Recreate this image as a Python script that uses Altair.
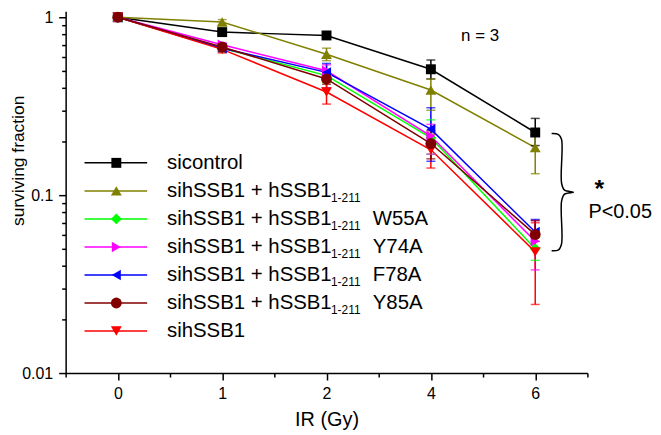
import altair as alt
import pandas as pd

FONT = "Liberation Sans"

# ---------------- data ----------------
doses = ["0", "1", "2", "4", "6"]
dose_index = [0, 1, 2, 3, 4]

series_ids = ["sicontrol", "wt", "W55A", "Y74A", "F78A", "Y85A", "sihSSB1"]
legend_main = ["sicontrol", "sihSSB1 + hSSB1", "sihSSB1 + hSSB1", "sihSSB1 + hSSB1",
               "sihSSB1 + hSSB1", "sihSSB1 + hSSB1", "sihSSB1"]
legend_sub = ["", "1-211", "1-211", "1-211", "1-211", "1-211", ""]
legend_suffix = ["", "", "W55A", "Y74A", "F78A", "Y85A", ""]
colors = ["#000000", "#808000", "#00ff00", "#ff00ff", "#0000ff", "#800000", "#ff0000"]
shapes = ["square", "triangle-up", "diamond", "triangle-right", "triangle-left", "circle", "triangle-down"]
marker_sizes = [100, 120, 120, 110, 110, 120, 120]
draw_order = [0, 1, 2, 3, 4, 6, 5]

sicontrol_val = [1.0, 0.825, 0.79, 0.51, 0.225]
wt_val = [1.0, 0.94, 0.62, 0.39, 0.185]
w55a_val = [1.0, 0.67, 0.47, 0.21, 0.050]
y74a_val = [1.0, 0.70, 0.50, 0.215, 0.055]
f78a_val = [1.0, 0.67, 0.49, 0.235, 0.062]
y85a_val = [1.0, 0.68, 0.45, 0.195, 0.060]
sihssb1_val = [1.0, 0.66, 0.38, 0.18, 0.048]

sicontrol_lo = [None, 0.79, 0.77, 0.45, 0.19]
sicontrol_hi = [None, 0.85, 0.81, 0.575, 0.27]
wt_lo = [None, 0.90, 0.57, 0.30, 0.132]
wt_hi = [None, 0.97, 0.67, 0.45, 0.23]
w55a_lo = [None, 0.64, 0.43, 0.17, 0.043]
w55a_hi = [None, 0.70, 0.51, 0.265, 0.058]
y74a_lo = [None, 0.68, 0.46, 0.17, 0.038]
y74a_hi = [None, 0.72, 0.54, 0.25, 0.072]
f78a_lo = [None, 0.64, 0.40, 0.155, 0.055]
f78a_hi = [None, 0.70, 0.55, 0.31, 0.073]
y85a_lo = [None, 0.65, 0.42, 0.16, 0.050]
y85a_hi = [None, 0.71, 0.48, 0.23, 0.072]
sihssb1_lo = [None, 0.63, 0.325, 0.142, 0.0243]
sihssb1_hi = [None, 0.69, 0.45, 0.22, 0.070]

values = [sicontrol_val, wt_val, w55a_val, y74a_val, f78a_val, y85a_val, sihssb1_val]
lows = [sicontrol_lo, wt_lo, w55a_lo, y74a_lo, f78a_lo, y85a_lo, sihssb1_lo]
highs = [sicontrol_hi, wt_hi, w55a_hi, y74a_hi, f78a_hi, y85a_hi, sihssb1_hi]

y_major = [0.01, 0.1, 1]
y_ticks = sorted(set([round(m * k, 4) for m in [0.01, 0.1] for k in range(1, 10)] + [1.0]))
x_ticks = [i / 2 for i in range(-1, 10)]

# annotation texts
n_text = "n = 3"
star_text = "*"
p_text = "P<0.05"

rows, err_rows = [], []
for s, (sid, vals, lo, hi) in enumerate(zip(series_ids, values, lows, highs)):
    for i, d in enumerate(dose_index):
        rows.append({"series": sid, "idx": d, "val": vals[i], "z": draw_order[s],
                     "sz": marker_sizes[s]})
        if lo[i] is not None:
            err_rows.append({"series": sid, "idx": d, "lo": lo[i], "hi": hi[i], "z": draw_order[s]})
df = pd.DataFrame(rows).sort_values("z")
err_df = pd.DataFrame(err_rows).sort_values("z")

# ---------------- main plot ----------------
x_label_expr = "datum.value % 1 == 0 ? [" + ",".join("'%s'" % d for d in doses) + "][datum.value] : ''"
y_label_expr = " : ".join("datum.value == %s ? '%s'" % (v, str(v)) for v in y_major) + " : ''"

x_axis = alt.Axis(values=x_ticks, labelExpr=x_label_expr, grid=False,
                  tickSize={"condition": {"test": "datum.value % 1 == 0", "value": 7}, "value": 4},
                  labelPadding=6, labelFontSize=16, labelFont=FONT, labelColor="black",
                  titleFontSize=20, titleBaseline="middle", titleY=47,
                  titleFontWeight="normal")
y_axis = alt.Axis(values=y_ticks, labelExpr=y_label_expr, grid=False,
                  tickSize={"condition": {"test": "indexof([0.01, 0.1, 1], datum.value) >= 0", "value": 7}, "value": 4},
                  labelPadding=6, labelFontSize=16, labelFont=FONT, labelColor="black",
                  titleFontSize=17.5, titleX=-47, titleY=150, titleAlign="center",
                  titleBaseline="middle", titleFontWeight="normal")

x_scale = alt.Scale(domain=[-0.5, 4.5], nice=False, zero=False)
y_scale = alt.Scale(type="log", domain=[0.01, 1.08], nice=False)


def X(field):
    return alt.X(field, type="quantitative", scale=x_scale, axis=x_axis, title="IR (Gy)")


def Y(field):
    return alt.Y(field, type="quantitative", scale=y_scale, axis=y_axis, title="surviving fraction")


color_enc = alt.Color("series:N", scale=alt.Scale(domain=series_ids, range=colors), legend=None)

lines = alt.Chart(df).mark_line(strokeWidth=1.5).encode(
    x=X("idx"), y=Y("val"), color=color_enc, order=alt.Order("idx:Q"))

err_rules = alt.Chart(err_df).mark_rule(strokeWidth=1.5).encode(
    x=X("idx"), y=Y("lo"), y2="hi:Q", color=color_enc)

err_caps = alt.Chart(err_df).transform_fold(["lo", "hi"], as_=["end", "v"]).mark_tick(
    orient="horizontal", size=9, thickness=1.5).encode(
    x=X("idx"), y=Y("v"), color=color_enc)

points = alt.Chart(df).mark_point(filled=True, opacity=1).encode(
    x=X("idx"), y=Y("val"), color=color_enc,
    shape=alt.Shape("series:N", scale=alt.Scale(domain=series_ids, range=shapes), legend=None),
    size=alt.Size("sz:Q", scale=None, legend=None),
    order=alt.Order("z:Q"))

main = alt.layer(lines, err_rules, err_caps, points)

# ---------------- legend & annotations (pixel positions) ----------------
leg_df = pd.DataFrame({
    "row": list(range(len(series_ids))),
    "main": legend_main, "sub": legend_sub, "suffix": legend_suffix,
    "col": colors, "shp": shapes, "sz": marker_sizes,
})
leg = alt.Chart(leg_df).transform_calculate(ly="152.5 + 28.2 * datum.row")
LY = alt.Y("ly:Q", scale=None, axis=None)

leg_line = leg.mark_rule(strokeWidth=1.5).encode(
    x=alt.value(19), x2=alt.value(82), y=LY, color=alt.Color("col:N", scale=None, legend=None))
leg_pt = leg.mark_point(filled=True, opacity=1).encode(
    x=alt.value(51), y=LY, color=alt.Color("col:N", scale=None, legend=None),
    shape=alt.Shape("shp:N", scale=None, legend=None), size=alt.Size("sz:Q", scale=None, legend=None))
leg_txt = leg.mark_text(align="left", baseline="middle", fontSize=20.5, font=FONT, color="black").encode(
    x=alt.value(102), y=LY, text="main:N")
leg_sub = leg.mark_text(align="left", baseline="middle", fontSize=12, font=FONT, color="black", dy=7).encode(
    x=alt.value(267), y=LY, text="sub:N")
leg_suf = leg.mark_text(align="left", baseline="middle", fontSize=20.5, font=FONT, color="black").encode(
    x=alt.value(309), y=LY, text="suffix:N")

ann_df = pd.DataFrame({
    "t": [n_text, p_text],
    "px": [417, 558],
    "py": [25, 202],
    "fs": [17, 20],
})
ann = alt.Chart(ann_df).mark_text(align="center", baseline="middle", font=FONT, color="black").encode(
    x=alt.X("px:Q", scale=None, axis=None), y=alt.Y("py:Q", scale=None, axis=None),
    text="t:N", size=alt.Size("fs:Q", scale=None, legend=None))

star_df = pd.DataFrame({"t": [star_text], "px": [537], "py": [179]})
star = alt.Chart(star_df).mark_text(align="center", baseline="middle", font=FONT, color="black",
                                    fontSize=25, fontWeight="bold").encode(
    x=alt.X("px:Q", scale=None, axis=None), y=alt.Y("py:Q", scale=None, axis=None), text="t:N")

brace_df = pd.DataFrame({
    "i": list(range(11)),
    "bx": [489, 496, 499, 499, 502, 511, 502, 499, 499, 496, 489],
    "by": [123, 124, 129, 173, 180, 182, 184, 191, 234, 240, 241],
})
brace = alt.Chart(brace_df).mark_line(interpolate="catmull-rom", strokeWidth=1.5, color="black").encode(
    x=alt.X("bx:Q", scale=None, axis=None), y=alt.Y("by:Q", scale=None, axis=None), order="i:Q")

overlay = alt.layer(leg_line, leg_pt, leg_txt, leg_sub, leg_suf, ann, star, brace)

chart = alt.layer(main, overlay).resolve_scale(
    x="independent", y="independent", color="independent", shape="independent", size="independent"
).properties(
    width=525, height=364,
    autosize=alt.AutoSizeParams(type="none"),
    padding={"left": 58, "top": 2, "right": 66, "bottom": 58},
).configure(font=FONT).configure_view(stroke=None).configure_axis(
    domainColor="black", domainWidth=1.5, tickColor="black", tickWidth=1.5,
    labelColor="black", labelFont=FONT, labelFontSize=16, titleFont=FONT, titleColor="black",
)

chart.save("out.html", embed_options={"renderer": "svg", "actions": False})
